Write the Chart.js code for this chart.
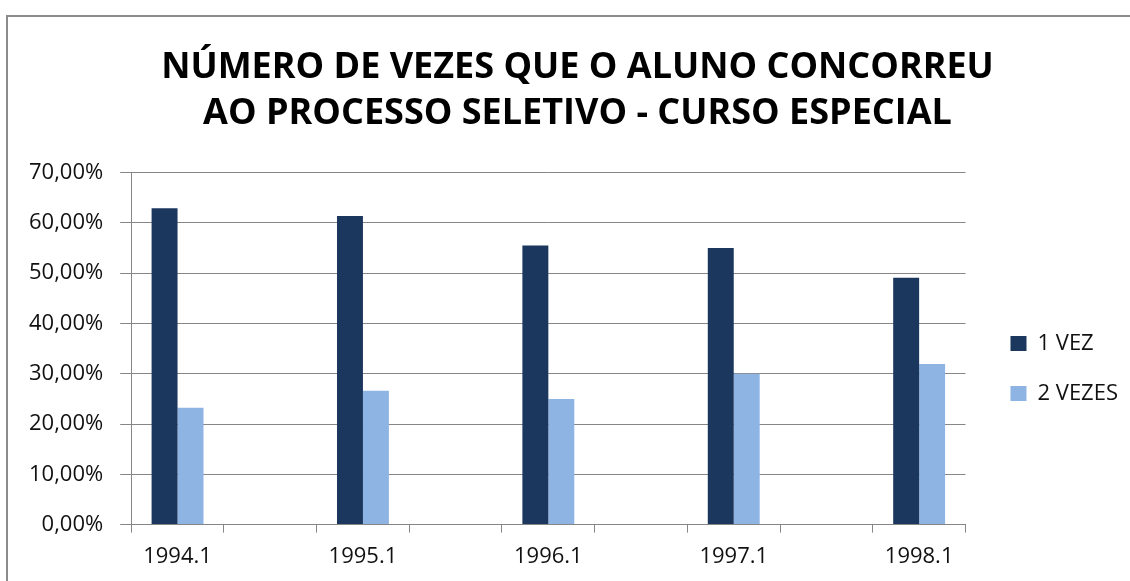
<!DOCTYPE html>
<html>
<head>
<meta charset="utf-8">
<script src="https://cdn.jsdelivr.net/npm/chart.js@4/dist/chart.umd.min.js"></script>
<style>
  html, body { margin: 0; padding: 0; background: #fff; overflow: hidden; }
  #wrap { position: relative; width: 1130px; height: 581px; }
  #frame { position: absolute; left: 6px; top: 15px; width: 1140px; height: 600px;
           border: 2px solid #8c8c8c; pointer-events: none; }
</style>
</head>
<body>
<div id="wrap">
  <canvas id="chart" width="1130" height="581"></canvas>
  <div id="frame"></div>
</div>
<script>
// 9 slots on the axis, only the .1 semesters carry data
const semesters = ['1994.1', '', '1995.1', '', '1996.1', '', '1997.1', '', '1998.1'];
const umaVez = [62.9, null, 61.35, null, 55.5, null, 55.0, null, 49.1];
const duasVezes = [23.25, null, 26.6, null, 25.0, null, 30.0, null, 31.95];
const yTicks = [0, 10, 20, 30, 40, 50, 60, 70];

const titleLines = ['NÚMERO DE VEZES QUE O ALUNO CONCORREU', 'AO PROCESSO SELETIVO - CURSO ESPECIAL'];

// excel keeps the legend further from the plot and the title a bit to the right
const nudges = {
    id: 'nudges',
    afterLayout(chart) {
        chart.legend.left += 17;
        chart.legend.right += 17;
        chart.titleBlock.left += 16;
        chart.titleBlock.right += 16;
    }
};

const ctx = document.getElementById('chart').getContext('2d');
new Chart(ctx, {
    type: 'bar',
    data: {
        labels: semesters,
        datasets: [
            { label: '1 VEZ', data: umaVez, backgroundColor: '#1b375e' },
            { label: '2 VEZES', data: duasVezes, backgroundColor: '#8eb4e3' }
        ]
    },
    plugins: [nudges],
    options: {
        responsive: false,
        animation: false,
        layout: { padding: { left: 12, right: 19, top: 44, bottom: 0 } },
        datasets: { bar: { categoryPercentage: 0.56, barPercentage: 1.0 } },
        plugins: {
            title: {
                display: true,
                text: titleLines,
                color: '#000',
                font: { family: 'Open Sans', size: 36, weight: 'bold', lineHeight: 1.3 },
                padding: { top: 0, bottom: 35 }
            },
            legend: {
                position: 'right',
                title: { display: true, text: ' ', font: { size: 10 }, padding: { top: 50, bottom: 50 } },
                labels: {
                    color: '#111',
                    font: { family: 'Open Sans', size: 22 },
                    boxWidth: 16,
                    boxHeight: 15,
                    padding: 28
                }
            },
            tooltip: { enabled: false }
        },
        scales: {
            x: {
                grid: { display: true, drawOnChartArea: false, drawTicks: true, tickLength: 8, color: '#868686', offset: true },
                border: { color: '#868686' },
                ticks: { color: '#111', autoSkip: false, maxRotation: 0, padding: 11,
                         font: { family: 'Open Sans', size: 22 } }
            },
            y: {
                min: 0, max: 70,
                afterBuildTicks: axis => { axis.ticks = yTicks.map(v => ({ value: v })); },
                grid: { color: '#868686', tickLength: 11 },
                border: { color: '#868686' },
                ticks: { color: '#111', padding: 17,
                         font: { family: 'Open Sans', size: 22 },
                         callback: v => v.toFixed(2).replace('.', ',') + '%' }
            }
        }
    }
});
</script>
</body>
</html>
